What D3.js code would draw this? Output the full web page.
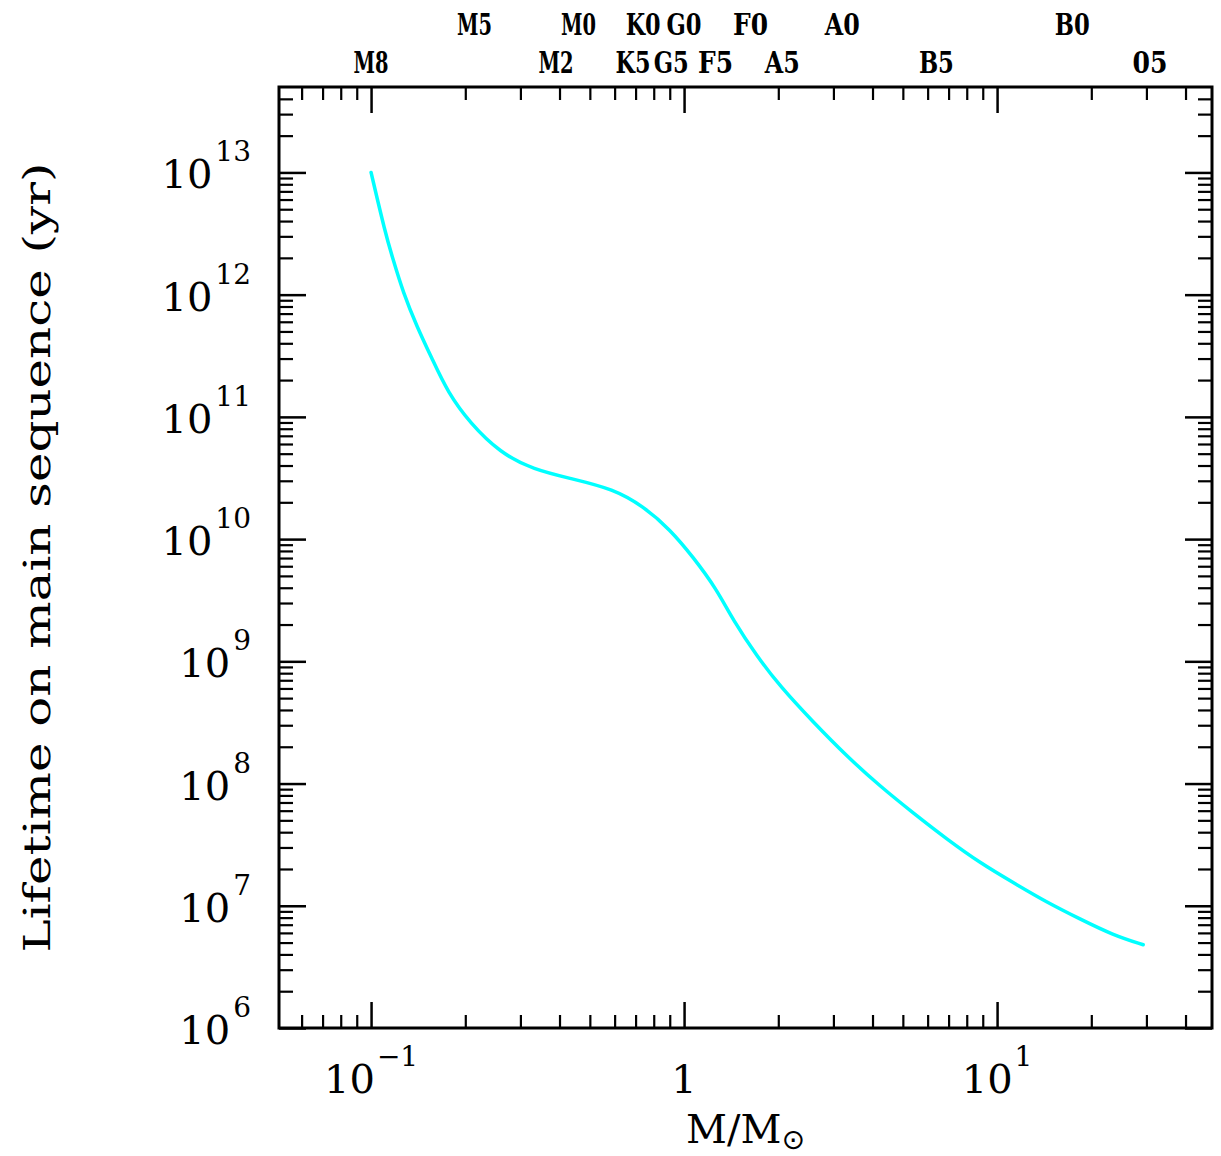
<!DOCTYPE html>
<html>
<head>
<meta charset="utf-8">
<script src="https://d3js.org/d3.v7.min.js"></script>
<style>
  body { margin: 0; background: #fff; }
  svg { display: block; }
</style>
</head>
<body>
<svg id="chart"></svg>
<script>
// stellar mass (M/Msun)
const masses = [0.100, 0.111, 0.1175, 0.1265, 0.140, 0.157, 0.176, 0.207, 0.258, 0.330,
                0.442, 0.593, 0.740, 0.902, 1.07, 1.27, 1.43, 1.71, 2.03,
                2.58, 3.32, 4.23, 5.39, 6.92, 8.83, 11.25, 14.4, 18.4, 23.5, 29.3];
// lifetime on the main sequence (yr)
const lifetimes = [1.0e13, 3.2e12, 1.95e12, 1.05e12, 5.5e11, 2.95e11, 1.58e11, 8.9e10, 5.1e10, 3.7e10,
                   3.1e10, 2.57e10, 1.86e10, 1.2e10, 7.1e9, 3.9e9, 2.2e9, 1.1e9, 6.2e8,
                   3.2e8, 1.66e8, 9.5e7, 5.75e7, 3.5e7, 2.24e7, 1.55e7, 1.07e7, 7.8e6, 5.75e6, 4.8e6];

// spectral types on top, two staggered rows
const typesUpper = ["M5", "M0", "K0", "G0", "F0", "A0", "B0"];
const typeMassUpper = [0.214, 0.46, 0.74, 1.0, 1.63, 3.2, 17.4];
const typesLower = ["M8", "M2", "K5", "G5", "F5", "A5", "B5", "05"];
const typeMassLower = [0.1, 0.39, 0.687, 0.91, 1.26, 2.06, 6.4, 30.8];

// tick labels
const xMajor = [0.1, 1, 10];
const xLabelBase = ["10", "1", "10"];
const xLabelExp = ["\u22121", "", "1"];
const yExponents = [6, 7, 8, 9, 10, 11, 12, 13];

const massLimits = [0.0508, 48.6];
const lifeLimits = [1e6, 5e13];

const width = 1221, height = 1156;
const plotLeft = 279, plotRight = 1212, plotTop = 87, plotBottom = 1028;

const svg = d3.select("#chart").attr("width", width).attr("height", height);

const x = d3.scaleLog().domain(massLimits).range([plotLeft, plotRight]);
const y = d3.scaleLog().domain(lifeLimits).range([plotBottom, plotTop]);

// minor ticks 2..9 per decade inside the limits
function minorTicks(lo, hi) {
    const out = [];
    for (let e = Math.floor(Math.log10(lo)); e <= Math.ceil(Math.log10(hi)); e++) {
        for (let k = 2; k <= 9; k++) {
            const v = k * Math.pow(10, e);
            if (v > lo * 1.001 && v < hi * 0.999) out.push(v);
        }
    }
    return out;
}
const xMinor = minorTicks(massLimits[0], massLimits[1]);
const yMajor = yExponents.map(e => Math.pow(10, e));
const yMinor = minorTicks(lifeLimits[0], lifeLimits[1]);

function drawAxis(axis, tx, ty, sw) {
    const g = svg.append("g").attr("transform", `translate(${tx},${ty})`).call(axis);
    g.select(".domain").remove();
    g.selectAll(".tick line").attr("stroke", "#000").attr("stroke-width", sw);
    g.selectAll(".tick text").remove();
}

// bottom / top
drawAxis(d3.axisBottom(x).tickValues(xMajor).tickSize(-26), 0, plotBottom, 2.5);
drawAxis(d3.axisBottom(x).tickValues(xMinor).tickSize(-13), 0, plotBottom, 2.2);
drawAxis(d3.axisTop(x).tickValues(xMajor).tickSize(-26), 0, plotTop, 2.5);
drawAxis(d3.axisTop(x).tickValues(xMinor).tickSize(-13), 0, plotTop, 2.2);
// left / right
drawAxis(d3.axisLeft(y).tickValues(yMajor).tickSize(-27), plotLeft, 0, 2.5);
drawAxis(d3.axisLeft(y).tickValues(yMinor).tickSize(-14), plotLeft, 0, 2.2);
drawAxis(d3.axisRight(y).tickValues(yMajor).tickSize(-27), plotRight, 0, 2.5);
drawAxis(d3.axisRight(y).tickValues(yMinor).tickSize(-14), plotRight, 0, 2.2);

// frame
svg.append("rect")
    .attr("x", plotLeft).attr("y", plotTop)
    .attr("width", plotRight - plotLeft).attr("height", plotBottom - plotTop)
    .attr("fill", "none").attr("stroke", "#000").attr("stroke-width", 3);

// curve
const pts = masses.map((m, i) => [m, lifetimes[i]]);
svg.append("path")
    .datum(pts)
    .attr("fill", "none")
    .attr("stroke", "#00ffff")
    .attr("stroke-width", 3.5)
    .attr("stroke-linecap", "round")
    .attr("d", d3.line().x(d => x(d[0])).y(d => y(d[1])).curve(d3.curveBasis));

const serif = "'DejaVu Serif', 'Liberation Serif', serif";

// y tick labels
yExponents.forEach(e => {
    const t = svg.append("text")
        .attr("x", 251).attr("y", y(Math.pow(10, e)) + 16)
        .attr("text-anchor", "end")
        .attr("font-family", serif).attr("fill", "#000");
    t.append("tspan").attr("font-size", 40).text("10");
    t.append("tspan").attr("font-size", 28).attr("dx", 3).attr("dy", -27).text(e);
});

// x tick labels
xMajor.forEach((v, i) => {
    const t = svg.append("text")
        .attr("x", x(v)).attr("y", 1093)
        .attr("text-anchor", "middle")
        .attr("font-family", serif).attr("fill", "#000");
    t.append("tspan").attr("font-size", 40).text(xLabelBase[i]);
    if (xLabelExp[i]) {
        t.append("tspan").attr("font-size", 28).attr("dx", 2).attr("dy", -27).text(xLabelExp[i]);
    }
});

// axis titles
const xt = svg.append("text")
    .attr("x", (plotLeft + plotRight) / 2).attr("y", 1143)
    .attr("text-anchor", "middle")
    .attr("font-family", serif).attr("fill", "#000");
xt.append("tspan").attr("font-size", 40).text("M/M");
xt.append("tspan").attr("font-size", 28).attr("dy", 6).attr("font-family", "'DejaVu Sans', sans-serif").text("\u2299");

svg.append("text")
    .attr("transform", `translate(50,${(plotTop + plotBottom) / 2}) rotate(-90)`)
    .attr("text-anchor", "middle")
    .attr("font-family", serif).attr("font-size", 37)
    .attr("textLength", 790).attr("lengthAdjust", "spacingAndGlyphs")
    .attr("fill", "#000")
    .text("Lifetime on main sequence (yr)");

// spectral types
function typeRow(labels, ms, baseY) {
    svg.append("g").selectAll("text")
        .data(labels)
        .enter()
        .append("text")
        .attr("x", (d, i) => x(ms[i]))
        .attr("y", baseY)
        .attr("text-anchor", "middle")
        .attr("font-family", serif).attr("font-weight", "bold").attr("font-size", 30)
        .attr("textLength", 35).attr("lengthAdjust", "spacingAndGlyphs")
        .attr("fill", "#000")
        .text(d => d);
}
typeRow(typesUpper, typeMassUpper, 35);
typeRow(typesLower, typeMassLower, 73);
</script>
</body>
</html>
